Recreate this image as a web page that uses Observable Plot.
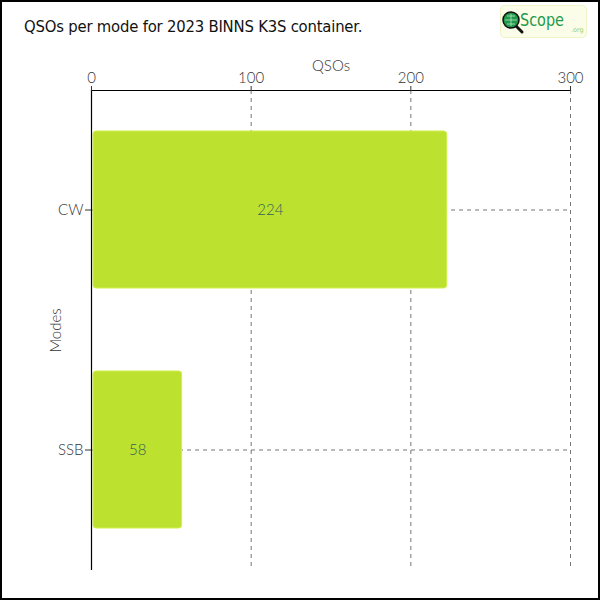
<!DOCTYPE html>
<html>
<head>
<meta charset="utf-8">
<script src="https://cdn.jsdelivr.net/npm/d3@7"></script>
<script src="https://cdn.jsdelivr.net/npm/@observablehq/plot@0.6"></script>
<style>
  html, body { margin: 0; padding: 0; background: #fff; }
  #wrap { position: relative; width: 600px; height: 600px; overflow: hidden; }
  #border { position: absolute; left: 0; top: 0; width: 600px; height: 600px; box-sizing: border-box; border: 2px solid #000; pointer-events: none; }
  #title { position: absolute; left: 24px; top: 17px; font-family: "DejaVu Sans Condensed", "DejaVu Sans", sans-serif; font-size: 16.5px; color: #111; letter-spacing: -0.2px; }
  #logo { position: absolute; left: 500px; top: 5px; }
  #chart { position: absolute; left: 0; top: 0; }
</style>
</head>
<body>
<div id="wrap">
  <div id="chart"></div>
  <div id="title">QSOs per mode for 2023 BINNS K3S container.</div>
  <svg id="logo" width="88" height="34" viewBox="0 0 88 34">
    <rect x="0.5" y="0.5" width="86" height="32" rx="4" fill="#fbfde9" stroke="#eef3c8"/>
    <line x1="14" y1="19" x2="22" y2="27" stroke="#111" stroke-width="3" stroke-linecap="round"/>
    <circle cx="11" cy="15" r="8" fill="#1f9a4a" stroke="#111" stroke-width="1.5"/>
    <path d="M5 15 H17 M11 9 V21 M7 11 H15 M7 19 H15" stroke="#b8e6c4" stroke-width="0.8"/>
    <text x="20" y="21" font-family="DejaVu Sans Condensed, sans-serif" font-size="17" fill="#1f9a4a" textLength="44" lengthAdjust="spacingAndGlyphs">Scope</text>
    <text x="71" y="27" font-family="DejaVu Sans, sans-serif" font-size="6.5" fill="#9ccf6a">.org</text>
  </svg>
  <div id="border"></div>
</div>
<script>
const modes = ["CW", "SSB"];
const qsos = [224, 58];
const xTicks = [0, 100, 200, 300];

const data = modes.map((m, i) => ({mode: m, qsos: qsos[i]}));
const font = "Lato, 'Open Sans', sans-serif";

const plot = Plot.plot({
  width: 600,
  height: 600,
  marginTop: 90,
  marginLeft: 91,
  marginRight: 30,
  marginBottom: 30,
  style: {fontFamily: font, fontSize: "14px", fontWeight: 300, color: "#333", background: "transparent"},
  x: {domain: [0, 300], ticks: xTicks, label: null},
  y: {domain: modes, paddingInner: 0.345, paddingOuter: 0.1725, label: null},
  marks: [
    Plot.gridX(xTicks.slice(1), {stroke: "#777", strokeOpacity: 1, strokeDasharray: "4,4"}),
    Plot.gridY(modes, {stroke: "#777", strokeOpacity: 1, strokeDasharray: "4,4"}),
    Plot.barX(data, {x: "qsos", y: "mode", fill: "#bde12f", stroke: "#d0ef4a", strokeWidth: 1, insetLeft: 2, insetRight: 2, rx: 3}),
    Plot.text(data, {x: d => d.qsos / 2, y: "mode", text: d => String(d.qsos), fill: "#2f5f5a", fontSize: 15, fontWeight: 300}),
    Plot.ruleX([0], {stroke: "#000", strokeWidth: 1.2}),
    Plot.frame({anchor: "top", stroke: "#000", strokeWidth: 1.2}),
    Plot.axisX({anchor: "top", ticks: xTicks, tickSize: 5, tickPadding: 3, fontSize: 15, label: "QSOs", labelAnchor: "center", labelArrow: "none", labelOffset: 30}),
    Plot.axisY({anchor: "left", tickSize: 6, tickPadding: 2, fontSize: 15, label: "Modes", labelAnchor: "center", labelArrow: "none", labelOffset: 41})
  ]
});
document.getElementById("chart").appendChild(plot);
</script>
</body>
</html>
